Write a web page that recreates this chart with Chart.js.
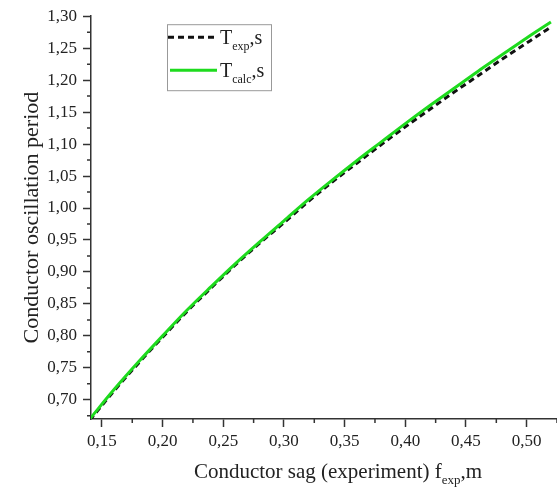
<!DOCTYPE html>
<html>
<head>
<meta charset="utf-8">
<script src="https://cdn.jsdelivr.net/npm/chart.js@4/dist/chart.umd.min.js"></script>
<style>
  html, body { margin: 0; padding: 0; background: #fff; }
  #wrap { width: 557px; height: 488px; }
</style>
</head>
<body>
<div id="wrap"><canvas id="chart" width="557" height="488"></canvas></div>
<script>
// Conductor sag f_exp, m
const sagX = [0.14, 0.16, 0.18, 0.20, 0.22, 0.24, 0.26, 0.28, 0.30, 0.32,
              0.34, 0.36, 0.38, 0.40, 0.42, 0.44, 0.46, 0.48, 0.50, 0.52];
// Oscillation period, s
const periodExp = [0.668, 0.714, 0.757, 0.798, 0.838, 0.875, 0.911, 0.945, 0.977, 1.010,
                   1.041, 1.070, 1.099, 1.127, 1.154, 1.181, 1.207, 1.233, 1.258, 1.283];
const periodCalc = [0.670, 0.716, 0.759, 0.800, 0.840, 0.877, 0.913, 0.947, 0.980, 1.013,
                    1.044, 1.074, 1.103, 1.132, 1.160, 1.187, 1.214, 1.240, 1.266, 1.291];

// Legend labels: [main, subscript, tail]
const labelExp = ['T', 'exp', ',s'];
const labelCalc = ['T', 'calc', ',s'];

// Tick values
const xTicks = [0.15, 0.20, 0.25, 0.30, 0.35, 0.40, 0.45, 0.50];
const yTicks = [0.70, 0.75, 0.80, 0.85, 0.90, 0.95, 1.00, 1.05, 1.10, 1.15, 1.20, 1.25, 1.30];

const SERIF = '"Liberation Serif", "Times New Roman", serif';
const AXIS_COLOR = '#333';
const TEXT_COLOR = '#222';

const fmt = v => v.toFixed(2).replace('.', ',');

// Draws text with a subscript part, returns the width
function drawSub(ctx, parts, x, y, size, draw) {
    const subSize = Math.round(size * 0.62);
    ctx.font = size + 'px ' + SERIF;
    const w0 = ctx.measureText(parts[0]).width;
    ctx.font = subSize + 'px ' + SERIF;
    const w1 = ctx.measureText(parts[1]).width;
    ctx.font = size + 'px ' + SERIF;
    const w2 = ctx.measureText(parts[2]).width;
    if (draw) {
        ctx.textAlign = 'left';
        ctx.textBaseline = 'alphabetic';
        ctx.font = size + 'px ' + SERIF;
        ctx.fillText(parts[0], x, y);
        ctx.font = subSize + 'px ' + SERIF;
        ctx.fillText(parts[1], x + w0, y + size * 0.28);
        ctx.font = size + 'px ' + SERIF;
        ctx.fillText(parts[2], x + w0 + w1, y);
    }
    return w0 + w1 + w2;
}

// Minor ticks, legend box and x title with subscript
const extrasPlugin = {
    id: 'extras',
    afterDraw(chart) {
        const ctx = chart.ctx;
        const area = chart.chartArea;
        const xs = chart.scales.x;
        const ys = chart.scales.y;
        ctx.save();

        // minor ticks
        ctx.strokeStyle = AXIS_COLOR;
        ctx.lineWidth = 1.5;
        ctx.beginPath();
        const xMinor = xTicks.map(v => v - 0.025).concat([xTicks[xTicks.length - 1] + 0.025]);
        xMinor.forEach(v => {
            if (v < xs.min || v > xs.max) return;
            const px = xs.getPixelForValue(v);
            ctx.moveTo(px, area.bottom);
            ctx.lineTo(px, area.bottom + 4);
        });
        const yMinor = yTicks.map(v => v - 0.025);
        yMinor.forEach(v => {
            if (v < ys.min || v > ys.max) return;
            const py = ys.getPixelForValue(v);
            ctx.moveTo(area.left, py);
            ctx.lineTo(area.left - 4, py);
        });
        ctx.stroke();

        // legend
        const bx = area.left + 76, by = area.top + 8, bw = 104, bh = 66;
        ctx.fillStyle = '#fff';
        ctx.fillRect(bx, by, bw, bh);
        ctx.strokeStyle = '#999';
        ctx.lineWidth = 1;
        ctx.strokeRect(bx + 0.5, by + 0.5, bw, bh);
        const legendParts = [labelExp, labelCalc];
        chart.data.datasets.forEach((ds, i) => {
            const ly = by + 13 + i * 33;
            ctx.beginPath();
            ctx.strokeStyle = ds.borderColor;
            ctx.lineWidth = ds.borderWidth;
            ctx.setLineDash(ds.borderDash || []);
            ctx.moveTo(bx + 1 + (i ? 2 : 0), ly);
            ctx.lineTo(bx + 47 + (i ? 3 : 0), ly);
            ctx.stroke();
            ctx.setLineDash([]);
            ctx.fillStyle = TEXT_COLOR;
            drawSub(ctx, legendParts[i], bx + 53, ly + 7, 20, true);
        });

        // x axis title
        const titleParts = ['Conductor sag (experiment) f', 'exp', ',m'];
        const tw = drawSub(ctx, titleParts, 0, 0, 21, false);
        const cx = (area.left + area.right) / 2 + 14;
        ctx.fillStyle = TEXT_COLOR;
        drawSub(ctx, titleParts, cx - tw / 2, area.bottom + 59, 21, true);

        ctx.restore();
    }
};

const ctx = document.getElementById('chart').getContext('2d');
new Chart(ctx, {
    type: 'line',
    data: {
        datasets: [
            {
                label: labelExp.join(''),
                data: sagX.map((x, i) => ({ x: x, y: periodExp[i] })),
                borderColor: '#111',
                borderWidth: 3,
                borderDash: [6, 4],
                pointRadius: 0,
                cubicInterpolationMode: 'monotone',
                order: 2
            },
            {
                label: labelCalc.join(''),
                data: sagX.map((x, i) => ({ x: x, y: periodCalc[i] })),
                borderColor: '#1edb1e',
                borderWidth: 3,
                pointRadius: 0,
                cubicInterpolationMode: 'monotone',
                order: 1
            }
        ]
    },
    options: {
        responsive: false,
        devicePixelRatio: 1,
        animation: false,
        layout: { padding: { top: 15, right: 0, left: 0, bottom: 0 } },
        plugins: {
            legend: { display: false },
            tooltip: { enabled: false }
        },
        scales: {
            x: {
                type: 'linear',
                min: 0.141,
                max: 0.525,
                afterBuildTicks: scale => { scale.ticks = xTicks.map(v => ({ value: v })); },
                afterFit: scale => { scale.height = 69; },
                border: { color: AXIS_COLOR, width: 1.5 },
                grid: { drawOnChartArea: false, drawTicks: true, tickLength: 8, tickColor: AXIS_COLOR, tickWidth: 1.5 },
                ticks: {
                    autoSkip: false,
                    maxRotation: 0,
                    padding: 4,
                    color: TEXT_COLOR,
                    font: { family: SERIF, size: 17 },
                    callback: v => fmt(v)
                },
                title: { display: false }
            },
            y: {
                min: 0.670,
                max: 1.30,
                afterBuildTicks: scale => { scale.ticks = yTicks.map(v => ({ value: v })); },
                afterFit: scale => { scale.width = 91; },
                border: { color: AXIS_COLOR, width: 1.5 },
                grid: { drawOnChartArea: false, drawTicks: true, tickLength: 8, tickColor: AXIS_COLOR, tickWidth: 1.5 },
                ticks: {
                    autoSkip: false,
                    padding: 6,
                    color: TEXT_COLOR,
                    font: { family: SERIF, size: 17 },
                    callback: v => fmt(v)
                },
                title: {
                    display: true,
                    text: 'Conductor oscillation period',
                    color: TEXT_COLOR,
                    font: { family: SERIF, size: 22 },
                    padding: { top: 19, bottom: 0 }
                }
            }
        }
    },
    plugins: [extrasPlugin]
});
</script>
</body>
</html>
